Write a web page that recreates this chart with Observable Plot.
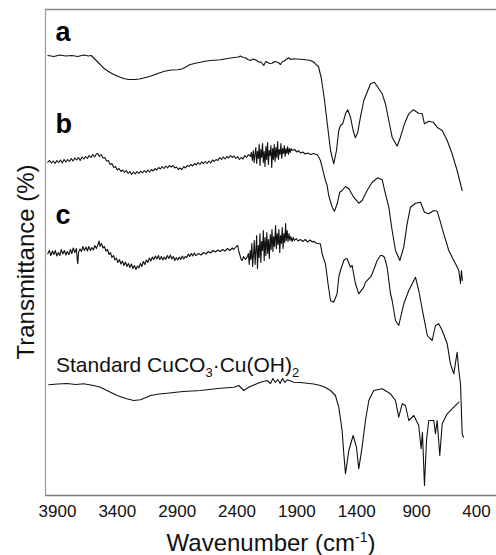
<!DOCTYPE html>
<html>
<head>
<meta charset="utf-8">
<script src="https://cdn.jsdelivr.net/npm/d3@7"></script>
<script src="https://cdn.jsdelivr.net/npm/@observablehq/plot@0.6"></script>
<style>
  html, body { margin: 0; padding: 0; background: #fff; }
  #chart svg { display: block; }
</style>
</head>
<body>
<div id="chart"></div>
<script>
// [wavenumber (cm-1), relative transmittance (a.u., traces offset)]
const traceA = [
  [3980,440],[3930,439],[3880,440.5],[3830,439.5],[3780,440],[3730,439],[3680,440.5],[3640,439.5],[3618,440],
  [3560,433],[3507,426.7],[3460,423],[3424,420.7],[3380,418.5],[3340,416.7],[3300,416],[3257,416],[3215,416.5],
  [3173,417.7],[3130,419],[3090,420.7],[3050,422.5],[3006,424.3],[2950,425.5],[2895,425.7],[2856,426.7],[2820,429],
  [2797,430.7],[2740,432.5],[2705,433.3],[2672,434.3],[2620,435],[2538,435.7],[2455,437.5],[2390,438.5],[2371,439.5],
  [2350,438],[2329,437.7],[2310,436],[2288,435],[2266,436.5],[2246,435.7],[2230,434.5],[2218,433.3],[2200,433.5],
  [2177,430],[2160,434],[2148,433.3],[2125,432],[2106,432.3],[2085,434],[2065,433.3],[2050,432.5],[2037,431],
  [2020,434],[2009,434.3],[1990,436],[1968,437.7],[1950,436],[1926,436.7],[1880,436.3],[1842,436],[1786,435],
  [1760,433.5],[1745,431.7],[1720,429],[1695,417],[1669,395],[1644,370],[1619,345],[1592,331.7],[1569,345],
  [1550,365],[1536,370],[1517,371.7],[1494,381.7],[1475,385.7],[1452,378.3],[1430,365],[1411,357.7],[1391,363.3],
  [1369,378.3],[1341,395],[1313,403.3],[1285,411.7],[1252,413.3],[1224,408.3],[1187,401.7],[1160,391.7],[1132,375],
  [1104,358.3],[1062,349.3],[1035,358.3],[1001,371.7],[965,381.7],[928,385.7],[882,382.3],[853,381.7],[834,371.7],
  [798,374.3],[761,373.3],[723,367.7],[686,365],[644,355],[603,341.7],[561,325],[519,305]
];
const traceB = [
  [3981,333.3],[3965,335],[3950,332.5],[3935,334.5],[3920,332],[3905,335],[3890,333],[3875,335.5],[3860,332.5],
  [3845,336],[3830,333.5],[3815,336],[3800,334],[3785,337],[3770,334.5],[3755,337.5],[3740,335.5],[3725,338],
  [3710,335],[3695,338.5],[3680,336.5],[3665,339],[3650,337],[3635,340],[3620,338],[3605,341],[3590,338.5],
  [3575,341.5],[3563,342],[3550,339],[3535,341],[3520,337.5],[3505,338],[3490,334.5],[3475,335],[3460,331],
  [3445,332],[3430,328],[3415,329],[3400,325.5],[3385,327],[3370,324],[3355,325.5],[3340,323],[3325,325],
  [3310,322],[3295,324],[3280,321],[3265,323.5],[3250,321.5],[3235,324],[3220,322],[3205,324.5],[3190,322.5],
  [3175,325],[3160,323],[3145,325.5],[3130,323.5],[3115,326],[3100,324.5],[3085,327],[3070,325.5],[3055,328],
  [3040,326.5],[3025,329],[3010,327],[2995,329.5],[2980,327.5],[2965,330],[2950,328.5],[2935,330],[2920,327.5],
  [2905,328.5],[2890,326],[2875,327.5],[2860,326],[2845,329],[2830,327.5],[2815,330],[2800,329],[2785,331],
  [2770,329.5],[2755,332],[2740,330.5],[2725,333],[2710,331],[2695,333.5],[2680,332],[2665,334],[2650,332],
  [2635,334.5],[2620,332.5],[2605,335.5],[2590,334],[2575,336],[2560,335],[2545,338],[2530,336],[2515,338.5],
  [2500,336.5],[2485,339],[2470,337.5],[2455,340],[2440,338],[2425,339.5],[2410,337],[2395,339],[2380,336],
  [2365,338],[2350,336.5],[2335,340],[2320,338],[2305,341],[2290,339],
  [2280,343],[2272,335],[2264,345],[2257,333],[2250,341],[2243,348],[2236,332],[2229,344],[2222,337],[2215,351],
  [2208,330],[2201,346],[2194,338],[2187,352],[2180,333],[2173,344],[2166,329],[2159,349],[2152,336],[2145,353],
  [2138,331],[2131,345],[2124,340],[2117,350],[2110,328],[2103,347],[2096,336],[2089,351],[2082,334],[2075,348],
  [2068,338],[2061,354],[2054,336],[2047,346],[2040,341],[2033,352],[2026,337],[2019,347],[2012,342],[2005,350],
  [1998,339],[1991,347],[1984,342],[1977,349],[1970,341],[1963,347],[1956,343],[1948,347],[1939,345],
  [1920,346],[1900,343.5],[1885,345],[1870,342.5],[1850,343.5],[1830,341.5],[1810,342.5],[1786,341],[1760,342],
  [1730,340.7],[1717,338.3],[1703,335],[1689,328.3],[1675,321.7],[1661,315],[1647,310],[1634,300],[1605,288.3],
  [1586,284.3],[1563,291.7],[1542,303.3],[1522,305],[1494,309],[1466,306.7],[1425,298.3],[1383,292.3],[1355,295],
  [1313,305],[1271,313.3],[1224,317.7],[1187,315.7],[1160,301.7],[1132,288.3],[1104,265],[1076,245],[1040,235],
  [1007,248.3],[979,271.7],[951,288.3],[909,292.3],[867,293.3],[834,283.3],[798,281.7],[756,285],[728,284.3],
  [706,275.7],[673,261.7],[631,245],[589,235],[567,230],[547,225],[533,212],[525,225],[517,215]
];
const traceC = [
  [3981,241.7],[3968,245],[3955,240],[3942,244.5],[3930,241],[3918,245],[3905,239.5],[3893,243],[3880,240],
  [3868,246],[3855,241.5],[3842,245],[3830,240.5],[3818,244],[3805,241],[3792,246],[3780,242],[3768,247.5],
  [3755,243],[3742,247],[3735,236],[3730,231.7],[3724,243],[3712,246.5],[3700,244],[3688,249],[3675,245],
  [3662,248.5],[3650,244.5],[3638,249],[3625,245],[3612,248],[3600,245.5],[3588,250],[3575,247],[3562,251],
  [3552,254.5],[3545,249],[3532,252],[3520,247.5],[3508,249],[3495,244.5],[3482,246],[3470,241],[3457,243],
  [3445,238],[3432,240],[3420,235.5],[3408,237.5],[3395,233],[3382,236],[3370,231.5],[3357,234.5],[3345,230],
  [3332,233.5],[3320,229],[3307,232],[3295,228],[3282,231.5],[3270,227],[3257,230],[3245,226],[3232,229.5],
  [3220,227.5],[3207,232],[3195,229],[3182,234],[3170,231],[3157,235.5],[3145,233],[3132,237.5],[3120,234.5],
  [3107,238.5],[3095,236],[3082,239.5],[3070,236.5],[3057,240],[3045,236],[3032,239],[3020,235.5],[3007,238.5],
  [2995,236],[2982,240],[2970,237],[2957,240.5],[2945,236.5],[2932,239],[2920,235],[2907,238],[2895,235.5],
  [2882,238.5],[2870,236],[2857,239.5],[2845,236.5],[2832,239],[2820,238],[2807,241.5],[2795,239],[2782,242],
  [2770,239.5],[2757,242.5],[2745,240],[2720,242],[2700,240.5],[2680,243],[2660,241.5],[2640,244],[2620,242.5],
  [2600,245],[2580,243.5],[2560,245.5],[2540,244],[2520,246],[2500,244.5],[2480,247],[2460,245],[2440,247.5],
  [2427,246],[2410,248.5],[2394,250],[2385,244],[2375,240],[2365,236],[2357,235],[2345,239],[2330,236],
  [2315,238.3],[2305,242],[2298,231],[2290,245],[2284,236],[2276,252],[2270,229],[2263,240],[2256,255],
  [2249,231],[2242,246],[2236,260],[2229,227],[2222,250],[2215,238],[2208,262],[2201,233],[2194,254],[2187,245],
  [2180,265],[2173,235],[2166,258],[2159,240],[2151,263],[2144,242],[2137,256],[2130,237],[2122,261],[2115,246],
  [2108,266],[2100,244],[2093,259],[2086,249],[2078,270],[2071,247],[2064,262],[2057,251],[2050,266],[2043,243],
  [2036,260],[2029,252],[2022,268],[2015,247],[2008,262],[2001,253],[1994,272],[1988,255],[1981,265],[1974,254],
  [1966,262],[1958,255],[1950,259],[1940,254],[1930,258],[1920,255],[1905,257],[1890,254.5],[1870,256],
  [1850,254],[1830,256],[1810,253.5],[1790,255.5],[1770,253.5],[1759,254.3],[1740,252.5],[1717,251.7],
  [1703,251.7],[1689,241.7],[1661,231.7],[1640,212],[1619,195],[1592,193.3],[1564,201.7],[1550,218.3],
  [1536,225],[1508,235],[1494,236.7],[1480,236.7],[1452,228.3],[1438,230],[1411,212],[1383,201.7],[1341,208.3],
  [1327,213.3],[1285,218.3],[1271,221.7],[1229,235],[1202,240],[1187,240],[1168,238.3],[1146,228.3],[1118,202],
  [1104,195],[1076,175],[1049,170],[1007,191.7],[965,205],[951,208.3],[909,218.3],[882,205],[840,178.3],
  [810,160],[798,158.3],[770,155],[742,170],[715,171.7],[686,165],[644,151.7],[617,131.7],[589,121.7],
  [561,143.3],[547,125],[533,111.7],[519,61.7],[508,58.3]
];
const traceStd = [
  [3973,110.7],[3900,111.5],[3820,112],[3750,111],[3680,111.7],[3600,110],[3541,108.3],[3470,104],[3401,100],
  [3330,97],[3263,95],[3207,95.7],[3160,98],[3123,100],[3050,101.5],[2984,102.3],[2850,104],[2705,105],[2560,107],
  [2427,108.3],[2385,110],[2344,105],[2302,108.3],[2250,111],[2204,113.3],[2148,115],[2120,112],[2100,117],
  [2080,113],[2060,116],[2040,112],[2020,117],[2000,113],[1981,115.7],[1926,113.3],[1870,113],[1814,112.3],
  [1760,111.5],[1703,110],[1660,108],[1619,105],[1578,100],[1550,88.3],[1522,65],[1508,41.7],[1494,21.7],
  [1466,45],[1430,60],[1402,48.3],[1383,26.7],[1355,48.3],[1327,75],[1299,95],[1258,105],[1187,106.7],
  [1118,101.7],[1076,95],[1049,78.3],[1020,91.7],[993,90],[965,75],[923,80],[882,70],[862,46.7],[851,63.3],
  [834,10],[817,55],[798,75],[756,75],[742,61.7],[728,75],[706,40],[686,71.7],[644,81.7],[589,88.3],[547,93.3]
];

const xTicks = [3900, 3400, 2900, 2400, 1900, 1400, 900, 400];
const seriesNames = ["a", "b", "c", "Standard CuCO3·Cu(OH)2"];
// label anchors: [wavenumber, value]
const labelAnchors = [[3917, 455], [3917, 362.7], [3917, 271.7], [3912, 123.3]];

const traces = [traceA, traceB, traceC, traceStd];
const data = traces.flatMap((t, k) => t.map(([wn, v]) => ({series: seriesNames[k], wn, v})));
const labels = seriesNames.map((name, k) => ({name, wn: labelAnchors[k][0], v: labelAnchors[k][1], bold: k < 3}));

const font = "'Liberation Sans', Arial, Helvetica, sans-serif";

const chart = Plot.plot({
  width: 496,
  height: 555,
  marginLeft: 45,
  marginRight: 0,
  marginTop: 9,
  marginBottom: 60,
  style: {fontFamily: font, background: "#fff", color: "#111"},
  x: {domain: [4000, 0], range: [45, 523.8]},
  y: {domain: [0, 486], range: [495, 9], axis: null},
  marks: [
    Plot.ruleY([486], {stroke: "#858585", strokeWidth: 1.3}),
    Plot.ruleX([4000], {stroke: "#a0a0a0", strokeWidth: 1.3}),
    Plot.ruleY([0], {stroke: "#7a7a7a", strokeWidth: 1.5}),
    Plot.line(data, {x: "wn", y: "v", z: "series", stroke: "#111", strokeWidth: 1.1}),
    Plot.axisX({ticks: xTicks, tickSize: 0, tickPadding: 9, fontSize: 17, tickFormat: d => String(d), label: null, fill: "#111"}),
    Plot.text(labels.filter(d => d.bold), {x: "wn", y: "v", text: "name", textAnchor: "start", lineAnchor: "bottom", fontSize: 27, fontWeight: "bold", fill: "#000"}),
    Plot.text(labels.filter(d => !d.bold), {x: "wn", y: "v", text: "name", textAnchor: "start", lineAnchor: "bottom", fontSize: 21, fill: "#111"}),
    Plot.text(["Wavenumber (cm-1)"], {frameAnchor: "bottom", dy: 55, lineAnchor: "bottom", textAnchor: "middle", fontSize: 24, fill: "#111"}),
    Plot.text(["Transmittance (%)"], {frameAnchor: "left", dx: -12, dy: 9.5, rotate: -90, lineAnchor: "bottom", textAnchor: "middle", fontSize: 24, fill: "#111"})
  ]
});

// rich text: sub/superscripts as real text tspans
d3.select(chart).selectAll("text").each(function() {
  const t = this.textContent;
  const sel = d3.select(this);
  if (t === "Standard CuCO3·Cu(OH)2") {
    sel.text(null);
    sel.append("tspan").text("Standard CuCO");
    sel.append("tspan").attr("dy", 5).attr("font-size", 13).text("3");
    sel.append("tspan").attr("dy", -5).text("·Cu(OH)");
    sel.append("tspan").attr("dy", 5).attr("font-size", 13).text("2");
  } else if (t === "Wavenumber (cm-1)") {
    sel.text(null);
    sel.append("tspan").text("Wavenumber (cm");
    sel.append("tspan").attr("dy", -9).attr("font-size", 14).text("-1");
    sel.append("tspan").attr("dy", 9).text(")");
  }
});

document.getElementById("chart").appendChild(chart);
</script>
</body>
</html>
